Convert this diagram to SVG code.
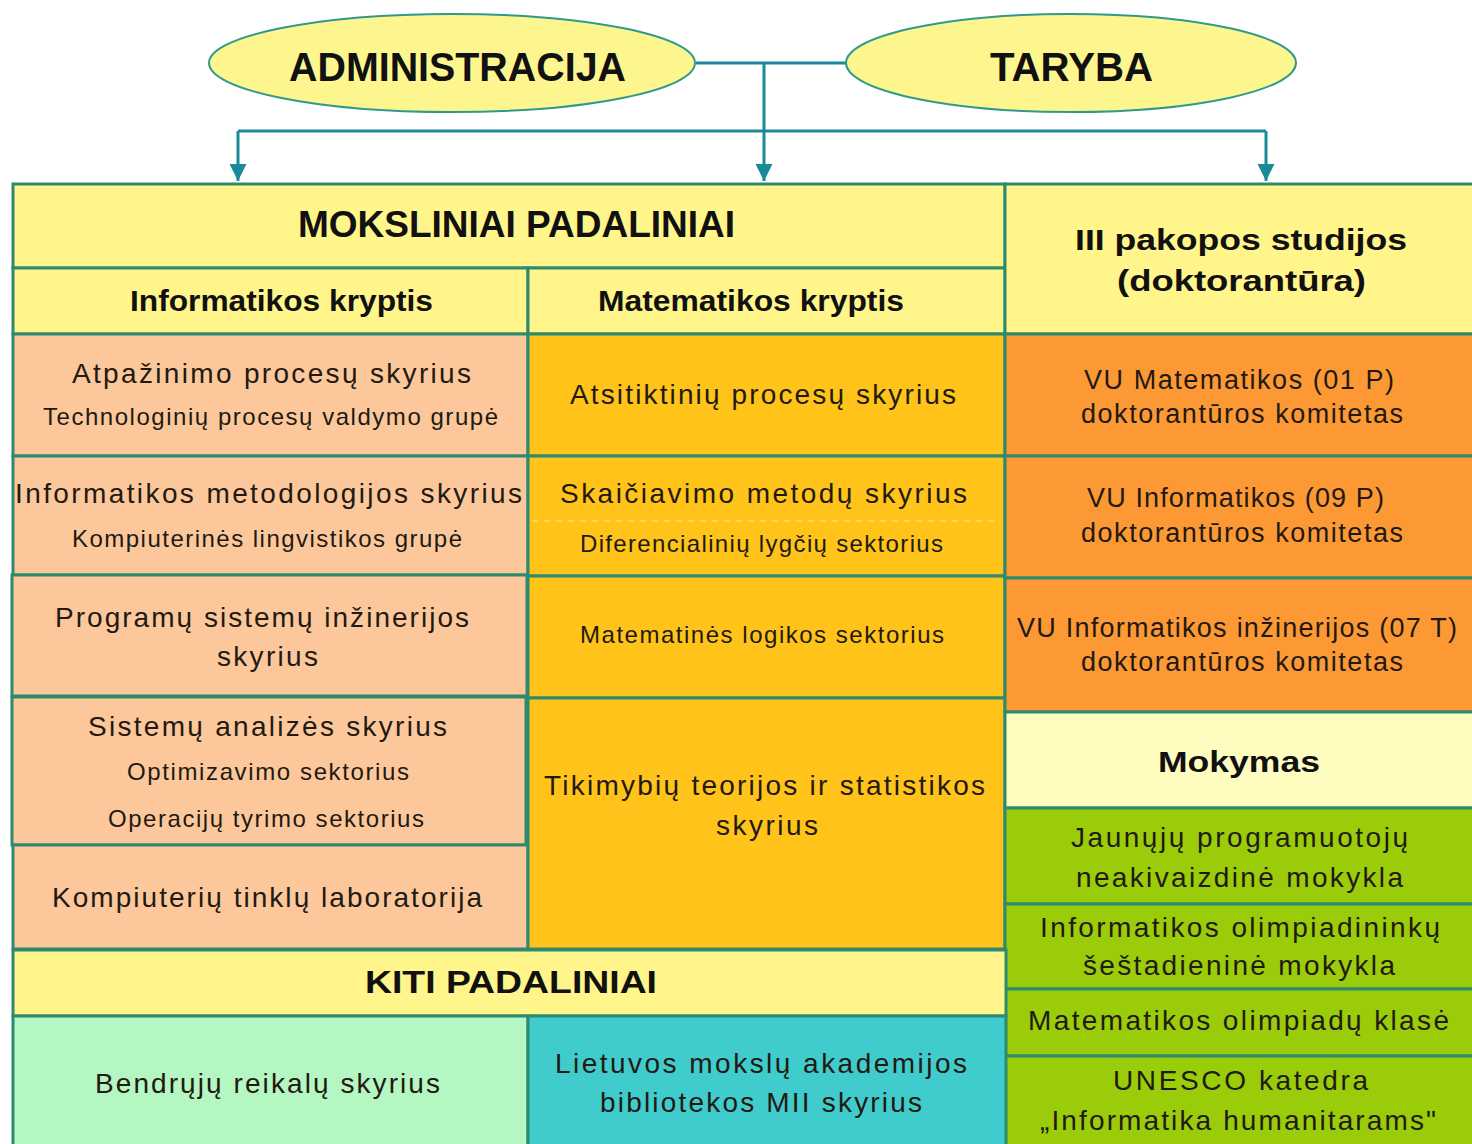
<svg xmlns="http://www.w3.org/2000/svg" width="1472" height="1144" viewBox="0 0 1472 1144">
<style>
.cell{stroke:#2e8a6e;stroke-width:3}
.hdr{fill:#fff58a}
.peach{fill:#fcc89b}
.gold{fill:#ffc31a}
.orange{fill:#fd9935}
.green{fill:#9acc0a}
.cream{fill:#fffcc0}
.mint{fill:#b5f7c3}
.teal{fill:#40cccc}
.ell{fill:#fdf68e;stroke:#2f9a8c;stroke-width:2}
text{font-family:"Liberation Sans",Arial,sans-serif;fill:#221a12;text-anchor:middle}
.b{font-weight:bold;fill:#111}
.t{font-size:28px}
.s{font-size:24px}
.m{font-size:27px}
.conn{fill:none;stroke:#1a8a9a;stroke-width:3}
</style>
<defs>
<marker id="arr" viewBox="0 0 10 10" refX="10" refY="5" markerWidth="17" markerHeight="17" markerUnits="userSpaceOnUse" orient="auto">
<path d="M0,0 L10,5 L0,10 z" fill="#1a8a9a"/>
</marker>
</defs>
<rect width="1472" height="1144" fill="#ffffff"/>

<g id="connectors">
<path class="conn" d="M696,63 H846"/>
<path class="conn" d="M764,63 V181" marker-end="url(#arr)"/>
<path class="conn" d="M238,131 H1266"/>
<path class="conn" d="M238,131 V181" marker-end="url(#arr)"/>
<path class="conn" d="M1266,131 V181" marker-end="url(#arr)"/>
</g>

<g id="administracija">
<ellipse class="ell" cx="452" cy="63" rx="243" ry="49"/>
<text class="b" x="457.5" y="81" font-size="40" textLength="337" lengthAdjust="spacingAndGlyphs">ADMINISTRACIJA</text>
</g>
<g id="taryba">
<ellipse class="ell" cx="1071" cy="63" rx="225" ry="49"/>
<text class="b" x="1071.5" y="81" font-size="40" textLength="163" lengthAdjust="spacingAndGlyphs">TARYBA</text>
</g>

<g id="moksliniai">
<rect class="cell hdr" x="13" y="184" width="992" height="84"/>
<text class="b" x="516.5" y="237" font-size="37" textLength="437" lengthAdjust="spacingAndGlyphs">MOKSLINIAI PADALINIAI</text>
</g>
<g id="informatikos-kryptis">
<rect class="cell hdr" x="13" y="268" width="515" height="66"/>
<text class="b" x="281.5" y="311" font-size="30" textLength="303" lengthAdjust="spacingAndGlyphs">Informatikos kryptis</text>
</g>
<g id="matematikos-kryptis">
<rect class="cell hdr" x="528" y="268" width="477" height="66"/>
<text class="b" x="751" y="311" font-size="30" textLength="306" lengthAdjust="spacingAndGlyphs">Matematikos kryptis</text>
</g>
<g id="iii-pakopos">
<rect class="cell hdr" x="1005" y="184" width="472" height="150"/>
<text class="b" x="1241" y="250" font-size="30" textLength="332" lengthAdjust="spacingAndGlyphs">III pakopos studijos</text>
<text class="b" x="1241.5" y="291" font-size="30" textLength="249" lengthAdjust="spacingAndGlyphs">(doktorantūra)</text>
</g>

<g id="atpazinimo">
<rect class="cell peach" x="13" y="334" width="515" height="122"/>
<text class="t" x="271.5" y="383" textLength="399">Atpažinimo procesų skyrius</text>
<text class="s" x="270.5" y="425" textLength="455">Technologinių procesų valdymo grupė</text>
</g>
<g id="informatikos-metodologijos">
<rect class="cell peach" x="13" y="456" width="515" height="119"/>
<text class="t" x="268.5" y="503" textLength="507">Informatikos metodologijos skyrius</text>
<text class="s" x="267" y="547" textLength="390">Kompiuterinės lingvistikos grupė</text>
</g>
<g id="programu">
<rect class="cell peach" x="12" y="575" width="515" height="121"/>
<text class="t" x="262" y="627" textLength="414">Programų sistemų inžinerijos</text>
<text class="t" x="267.5" y="666" textLength="101">skyrius</text>
</g>
<g id="sistemu-analizes">
<rect class="cell peach" x="12" y="697" width="514" height="148"/>
<text class="t" x="267.5" y="736" textLength="359">Sistemų analizės skyrius</text>
<text class="s" x="268" y="780" textLength="282">Optimizavimo sektorius</text>
<text class="s" x="266" y="827" textLength="316">Operacijų tyrimo sektorius</text>
</g>
<g id="kompiuteriu-tinklu">
<rect class="cell peach" x="13" y="845" width="515" height="104"/>
<text class="t" x="267" y="907" textLength="430">Kompiuterių tinklų laboratorija</text>
</g>

<g id="atsitiktiniu">
<rect class="cell gold" x="528" y="334" width="477" height="122"/>
<text class="t" x="763" y="404" textLength="386">Atsitiktinių procesų skyrius</text>
</g>
<g id="skaiciavimo">
<rect class="cell gold" x="528" y="456" width="477" height="120"/>
<line x1="532" y1="521" x2="1000" y2="521" stroke="#ffffff" stroke-width="2" stroke-dasharray="6 6" opacity="0.3"/>
<text class="t" x="763.5" y="503" textLength="407">Skaičiavimo metodų skyrius</text>
<text class="s" x="761.5" y="552" textLength="363">Diferencialinių lygčių sektorius</text>
</g>
<g id="matematines-logikos">
<rect class="cell gold" x="528" y="576" width="477" height="122"/>
<text class="s" x="762" y="643" textLength="364">Matematinės logikos sektorius</text>
</g>
<g id="tikimybiu">
<rect class="cell gold" x="528" y="698" width="477" height="251"/>
<text class="t" x="764.5" y="795" textLength="441">Tikimybių teorijos ir statistikos</text>
<text class="t" x="767" y="835" textLength="102">skyrius</text>
</g>

<g id="vu-matematikos">
<rect class="cell orange" x="1005" y="334" width="472" height="122"/>
<text class="m" x="1239" y="389" textLength="310">VU Matematikos (01 P)</text>
<text class="m" x="1242" y="423" textLength="322">doktorantūros komitetas</text>
</g>
<g id="vu-informatikos">
<rect class="cell orange" x="1005" y="456" width="472" height="122"/>
<text class="m" x="1235.5" y="507" textLength="297">VU Informatikos (09 P)</text>
<text class="m" x="1242" y="542" textLength="322">doktorantūros komitetas</text>
</g>
<g id="vu-informatikos-inz">
<rect class="cell orange" x="1005" y="578" width="472" height="134"/>
<text class="m" x="1237" y="637" textLength="440">VU Informatikos inžinerijos (07 T)</text>
<text class="m" x="1242" y="671" textLength="322">doktorantūros komitetas</text>
</g>
<g id="mokymas">
<rect class="cell cream" x="1005" y="712" width="472" height="96"/>
<text class="b" x="1239" y="772" font-size="30" textLength="162" lengthAdjust="spacingAndGlyphs">Mokymas</text>
</g>
<g id="jaunuju">
<rect class="cell green" x="1005" y="808" width="472" height="96"/>
<text class="t" x="1239.5" y="847" textLength="337">Jaunųjų programuotojų</text>
<text class="t" x="1239.5" y="887" textLength="327">neakivaizdinė mokykla</text>
</g>
<g id="informatikos-olimp">
<rect class="cell green" x="1005" y="904" width="472" height="85"/>
<text class="t" x="1240" y="937" textLength="400">Informatikos olimpiadininkų</text>
<text class="t" x="1239" y="975" textLength="312">šeštadieninė mokykla</text>
</g>
<g id="matematikos-olimp">
<rect class="cell green" x="1005" y="989" width="472" height="67"/>
<text class="t" x="1238.5" y="1030" textLength="421">Matematikos olimpiadų klasė</text>
</g>
<g id="unesco">
<rect class="cell green" x="1005" y="1056" width="472" height="94"/>
<text class="t" x="1240.5" y="1090" textLength="255">UNESCO katedra</text>
<text class="t" x="1238" y="1130" textLength="396">„Informatika humanitarams"</text>
</g>

<g id="kiti">
<rect class="cell hdr" x="13" y="950" width="993" height="66"/>
<text class="b" x="511" y="993" font-size="32" textLength="292" lengthAdjust="spacingAndGlyphs">KITI PADALINIAI</text>
</g>
<g id="bendruju">
<rect class="cell mint" x="13" y="1016" width="515" height="134"/>
<text class="t" x="267.5" y="1093" textLength="345">Bendrųjų reikalų skyrius</text>
</g>
<g id="lietuvos">
<rect class="cell teal" x="528" y="1016" width="478" height="134"/>
<text class="t" x="761" y="1073" textLength="412">Lietuvos mokslų akademijos</text>
<text class="t" x="761" y="1112" textLength="322">bibliotekos MII skyrius</text>
</g>
</svg>
